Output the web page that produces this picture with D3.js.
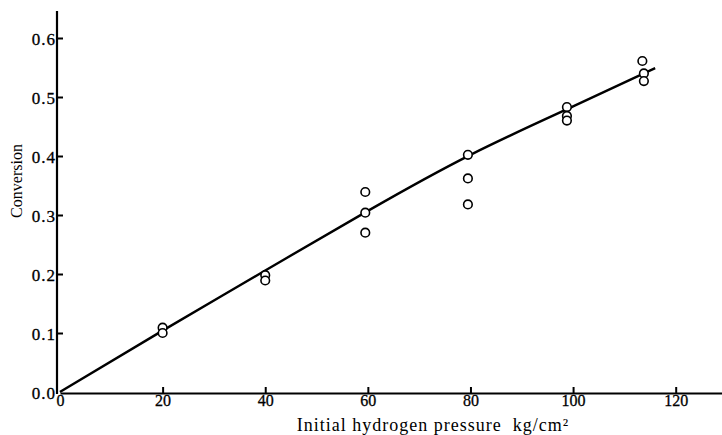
<!DOCTYPE html>
<html>
<head>
<meta charset="utf-8">
<script src="https://cdn.jsdelivr.net/npm/d3@7"></script>
<style>
  body { margin: 0; background: #fff; }
  svg { display: block; font-family: "Liberation Serif", "DejaVu Serif", serif; }
</style>
</head>
<body>
<div id="chart"></div>
<script>
// measured points (pressure kg/cm2, conversion)
const pointX = [20, 20, 40, 40, 59.5, 59.5, 59.5, 79.5, 79.5, 79.5, 98.8, 98.8, 98.8, 113.5, 113.8, 113.8];
const pointY = [0.109, 0.100, 0.198, 0.189, 0.339, 0.304, 0.270, 0.402, 0.362, 0.318, 0.483, 0.468, 0.460, 0.561, 0.540, 0.527];

// fitted curve drawn through the data
const curveX = [0, 20, 40, 60, 80, 100, 116];
const curveY = [0, 0.104, 0.206, 0.307, 0.402, 0.484, 0.549];

const xTicks = [0, 20, 40, 60, 80, 100, 120];
const yTicks = [0.0, 0.1, 0.2, 0.3, 0.4, 0.5, 0.6];

const width = 722, height = 435;
const x = d3.scaleLinear().domain([0, 130]).range([60, 727]);
const y = d3.scaleLinear().domain([0, 0.6]).range([392, 38]);

const svg = d3.select('#chart')
  .append('svg')
  .attr('width', width)
  .attr('height', height);

// x axis, ticks pointing up into the plot
const xAxis = svg.append('g')
  .attr('transform', `translate(0,${y(0) + 1})`)
  .call(d3.axisBottom(x).tickValues(xTicks).tickSizeInner(-6).tickSizeOuter(0)
    .tickFormat(d => d === 0 ? '0' : d));
xAxis.select('.domain').attr('stroke', '#000').attr('stroke-width', 2.2);
xAxis.selectAll('.tick line').attr('stroke', '#000').attr('stroke-width', 2);
xAxis.selectAll('.tick text')
  .attr('y', 2)
  .attr('font-size', 16)
  .attr('font-family', '"Liberation Serif", serif')
  .attr('fill', '#000')
  .attr('stroke', '#000')
  .attr('stroke-width', 0.3);
xAxis.selectAll('.tick').filter(d => d === 0).select('line').remove();

// y axis, ticks pointing right
const yAxis = svg.append('g')
  .attr('transform', `translate(${x(0) - 3},0)`)
  .call(d3.axisLeft(y).tickValues(yTicks).tickSizeInner(-6).tickSizeOuter(0)
    .tickFormat(d3.format('.1f')));
yAxis.select('.domain').attr('d', `M0,${y(0) + 2}V11`)
  .attr('stroke', '#000').attr('stroke-width', 2.2);
yAxis.selectAll('.tick line').attr('stroke', '#000').attr('stroke-width', 2);
yAxis.selectAll('.tick text')
  .attr('x', -1)
  .attr('dy', '0.4em')
  .attr('font-size', 17)
  .attr('letter-spacing', 1)
  .attr('font-family', '"Liberation Serif", serif')
  .attr('fill', '#000')
  .attr('stroke', '#000')
  .attr('stroke-width', 0.3);
yAxis.selectAll('.tick').filter(d => d === 0).select('line').remove();

// curve
const line = d3.line()
  .x((d, i) => x(curveX[i]))
  .y(d => y(d))
  .curve(d3.curveNatural);

svg.append('path')
  .datum(curveY)
  .attr('d', line)
  .attr('fill', 'none')
  .attr('stroke', '#000')
  .attr('stroke-width', 2.4);

// open circles
svg.append('g').selectAll('circle')
  .data(pointY)
  .join('circle')
  .attr('cx', (d, i) => x(pointX[i]))
  .attr('cy', d => y(d))
  .attr('r', 4.3)
  .attr('fill', '#fff')
  .attr('stroke', '#000')
  .attr('stroke-width', 1.6);

// axis titles
svg.append('text')
  .attr('transform', `translate(22,181) rotate(-90)`)
  .attr('text-anchor', 'middle')
  .attr('font-size', 16)
  .text('Conversion');

svg.append('text')
  .attr('x', 433)
  .attr('y', 431)
  .attr('text-anchor', 'middle')
  .attr('font-size', 18)
  .attr('letter-spacing', 1)
  .attr('xml:space', 'preserve')
  .text('Initial hydrogen pressure  kg/cm²');
</script>
</body>
</html>
